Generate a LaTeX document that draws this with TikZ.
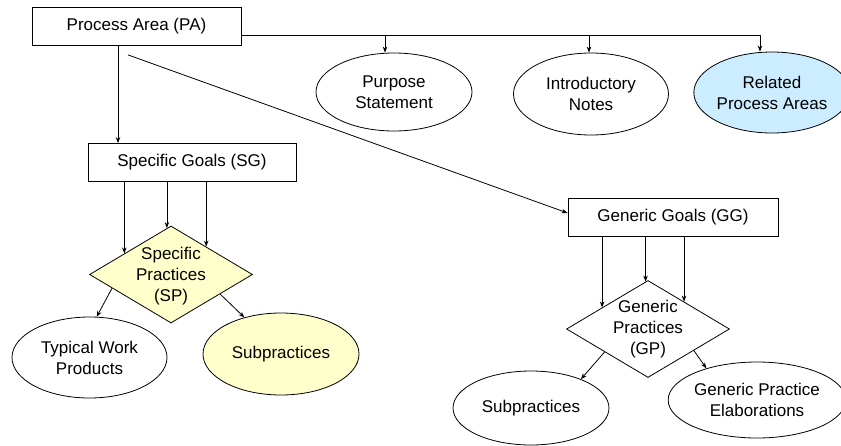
\documentclass[tikz,border=0pt]{standalone}
\usepackage{fontspec}
\setmainfont{Liberation Sans}
\usetikzlibrary{shapes.geometric,arrows.meta,calc}
\definecolor{lblue}{RGB}{204,236,255}
\definecolor{lyellow}{RGB}{255,255,204}
\begin{document}
\begin{tikzpicture}[x=1pt,y=-1pt,
  every node/.style={font=\fontsize{17}{21}\selectfont, align=center},
  box/.style={draw, line width=0.8pt, inner sep=0pt, minimum width=#1, minimum height=38pt},
  ell/.style 2 args={draw, ellipse, line width=0.8pt, inner sep=0pt, minimum width=#1, minimum height=#2},
  dia/.style={draw, diamond, line width=0.8pt, inner sep=0pt, minimum width=163pt, minimum height=97pt},
  arr/.style={-{Stealth[length=6pt,width=4.5pt]}, line width=0.8pt},
  ln/.style={line width=0.8pt}]
\useasboundingbox (0,0) rectangle (841,445);
\fill[white] (0,0) rectangle (841,445);
\clip (0,0) rectangle (841,445);

% nodes
\node[box=209pt] (pa) at (136.5,26.5) {Process Area (PA)};
\node[ell={156pt}{78pt}] (ps) at (394,92) {Purpose\\Statement};
\node[ell={155pt}{82pt}] (in) at (591,94) {Introductory\\Notes};
\node[ell={150pt}{81pt}, fill=lblue] (rp) at (772,92.5) {Related\\Process Areas};

\node[box=208pt] (sg) at (192,162.5) {Specific Goals (SG)};
\node[box=210pt] (gg) at (673,217) {Generic Goals (GG)};

\node[dia, fill=lyellow] (sp) at (171,274.5) {};
\node (spt) at (171,276) {Specific\\Practices\\(SP)};
\node[ell={155pt}{81pt}] (twp) at (89.5,357.5) {Typical Work\\Products};
\node[ell={156pt}{82pt}, fill=lyellow] (sub) at (281,354) {Subpractices};

\node[dia] (gp) at (648,329) {};
\node (gpt) at (648,329) {Generic\\Practices\\(GP)};
\node[ell={156pt}{74pt}] (sub2) at (531,408) {Subpractices};
\node[ell={166pt}{76pt}] (gpe) at (757,400) {Generic Practice\\Elaborations};

% bus from PA
\coordinate (j1) at (385,35);
\coordinate (j2) at (589,35);
\coordinate (j3) at (760,35);
\draw[ln] (pa.east |- j1) -- (j3);
\draw[arr] (j1) -- (j1 |- ps.north);
\draw[arr] (j2) -- (j2 |- in.north);
\draw[arr] (j3) -- (j3 |- rp.north);

% PA to goals
\draw[arr] (pa.south -| 118,0) -- (sg.north -| 118,0);
\draw[arr] ($(pa.south)+(-8.5,9)$) -- ([yshift=4pt]gg.west);

% SG to SP
\coordinate (sa1) at ($(sp.west)!0.43!(sp.north)$);
\coordinate (sa2) at ($(sp.west)!0.95!(sp.north)$);
\coordinate (sa3) at ($(sp.north)!0.43!(sp.east)$);
\draw[arr] (sg.south -| sa1) -- (sa1);
\draw[arr] (sg.south -| sa2) -- (sa2);
\draw[arr] (sg.south -| sa3) -- (sa3);

% GG to GP
\coordinate (ga1) at ($(gp.west)!0.44!(gp.north)$);
\coordinate (ga2) at ($(gp.west)!0.97!(gp.north)$);
\coordinate (ga3) at ($(gp.north)!0.44!(gp.east)$);
\draw[arr] (gg.south -| ga1) -- (ga1);
\draw[arr] (gg.south -| ga2) -- (ga2);
\draw[arr] (gg.south -| ga3) -- (ga3);

% practices to sub-items
\draw[arr] ($(sp.west)!0.28!(sp.south)$) -- (twp.80);
\draw[arr] ($(sp.south)!0.6!(sp.east)$) -- (sub.135);
\draw[arr] ($(gp.west)!0.47!(gp.south)$) -- (sub2.30);
\draw[arr] ($(gp.south)!0.56!(gp.east)$) -- (gpe.148);
\end{tikzpicture}
\end{document}
